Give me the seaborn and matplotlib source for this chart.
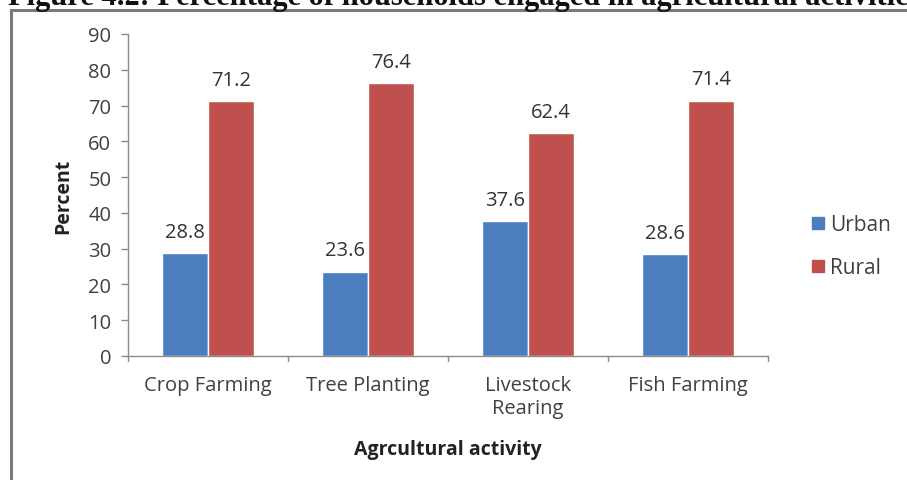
import matplotlib
matplotlib.use("Agg")
import matplotlib.pyplot as plt
from matplotlib.patches import Rectangle
from matplotlib.lines import Line2D
import seaborn as sns
import pandas as pd

activities = ["Crop Farming", "Tree Planting", "Livestock\nRearing", "Fish Farming"]
urban = [28.8, 23.6, 37.6, 28.6]
rural = [71.2, 76.4, 62.4, 71.4]
series = ["Urban", "Rural"]
colors = {"Urban": "#4a7ebf", "Rural": "#c0504d"}
yticks = [0, 10, 20, 30, 40, 50, 60, 70, 80, 90]

df = pd.DataFrame({
    "activity": activities * 2,
    "area": ["Urban"] * 4 + ["Rural"] * 4,
    "percent": urban + rural,
})

sns.set_theme(style="white")
plt.rcParams["font.family"] = ["Open Sans", "DejaVu Sans"]

W, H = 907, 481
fig = plt.figure(figsize=(W / 100, H / 100), dpi=100)
ax = fig.add_axes([128 / W, 1 - 357 / H, 640 / W, 322 / H])

sns.barplot(data=df, x="activity", y="percent", hue="area", hue_order=series,
            palette=colors, width=0.58, gap=0, saturation=1, ax=ax,
            legend=False, errorbar=None)

for cont in ax.containers:
    ax.bar_label(cont, fmt="%.1f", padding=8, fontsize=14.5, color="#333333")

ax.set_ylim(0, 90)
ax.set_xlim(-0.5, 3.5)
ax.set_yticks(yticks)
ax.tick_params(axis="y", labelsize=14.5, labelcolor="#404040", length=5,
               width=1, color="#8c8c8c", left=True, pad=7)
ax.tick_params(axis="x", labelsize=14.5, labelcolor="#404040", length=0, pad=14)
for side in ["top", "right"]:
    ax.spines[side].set_visible(False)
for side in ["left", "bottom"]:
    ax.spines[side].set_color("#8c8c8c")
    ax.spines[side].set_linewidth(1)

# category separator ticks below the x axis
for b in [-0.5, 0.5, 1.5, 2.5, 3.5]:
    ax.plot([b, b], [0, -1.4], color="#8c8c8c", lw=1, clip_on=False)

ax.set_xlabel("Agrcultural activity", fontsize=14, fontweight="bold",
              color="#222222", labelpad=15)
ax.set_ylabel("Percent", fontsize=14, fontweight="bold", color="#222222",
              labelpad=11)

handles = [Line2D([], [], marker="s", ls="", markersize=8,
                  markerfacecolor=colors[s], markeredgecolor=colors[s])
           for s in series]
fig.legend(handles, series, loc="center left",
           bbox_to_anchor=(789 / W, 1 - 247 / H), frameon=False,
           fontsize=15, labelspacing=1.05, handletextpad=0.05,
           handlelength=1.0, labelcolor="#404040")

# outer frame
fig.add_artist(Rectangle((11 / W, -0.1), 1.2, 1 - 11 / H + 0.1,
                         transform=fig.transFigure, fill=False,
                         edgecolor="#7a7a7a", lw=2.2))

fig.text(8 / W, 1 - 5 / H,
         "Figure 4.2: Percentage of households engaged in agricultural activities",
         fontsize=22, fontweight="bold", family=["Liberation Serif"],
         va="baseline", ha="left", color="#111111")

fig.savefig("out.png", dpi=100, facecolor="white")
